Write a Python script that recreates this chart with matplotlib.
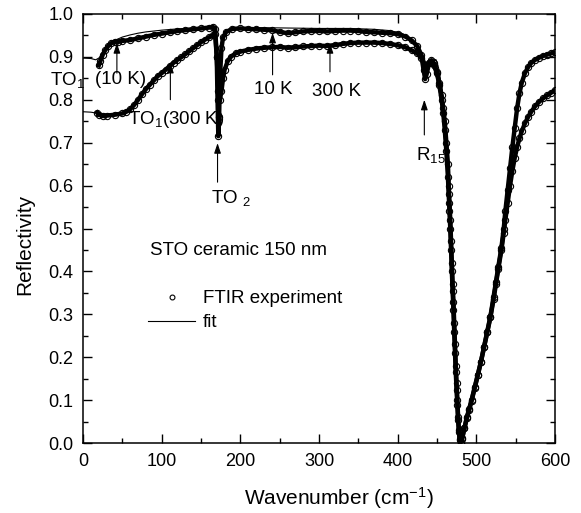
import numpy as np
import matplotlib
matplotlib.use('Agg')
import matplotlib.pyplot as plt
from matplotlib.lines import Line2D
from matplotlib.ticker import MultipleLocator

plt.rcParams['font.family'] = ['Liberation Sans', 'DejaVu Sans']
plt.rcParams['mathtext.fontset'] = 'custom'
plt.rcParams['mathtext.rm'] = 'Liberation Sans'
plt.rcParams['mathtext.default'] = 'regular'

wn_10k = [20, 22, 25, 28, 32, 36, 40, 45, 50, 60, 70, 80, 90, 100, 110, 120, 130, 140, 150, 160,
          165, 168, 170, 171, 172, 173, 174, 176, 178, 182, 190, 200, 210, 220, 230, 240, 250, 260,
          270, 280, 290, 300, 310, 320, 330, 340, 350, 360, 370, 380, 390, 400, 410, 418, 425, 430,
          433, 435, 437, 440, 443, 446, 450, 453, 456, 458, 460, 462, 464, 465, 466, 467, 468, 469,
          470, 471, 472, 473, 474, 475, 476, 477, 478, 479, 480, 482, 485, 488, 491, 494, 498, 502,
          506, 510, 514, 518, 522, 525, 528, 532, 535, 537, 540, 543, 546, 549, 552, 555, 558, 562,
          566, 570, 575, 580, 585, 590, 595, 600]
R_10k = [0.880, 0.890, 0.905, 0.915, 0.925, 0.932, 0.935, 0.935, 0.937, 0.939, 0.943, 0.947, 0.951,
         0.954, 0.957, 0.960, 0.962, 0.964, 0.966, 0.968, 0.970, 0.965, 0.90, 0.80, 0.715, 0.76, 0.85,
         0.92, 0.945, 0.958, 0.965, 0.966, 0.965, 0.964, 0.963, 0.962, 0.958, 0.955, 0.957, 0.959,
         0.960, 0.960, 0.959, 0.960, 0.961, 0.961, 0.960, 0.958, 0.957, 0.956, 0.955, 0.953, 0.947,
         0.938, 0.925, 0.905, 0.87, 0.848, 0.86, 0.885, 0.892, 0.885, 0.865, 0.84, 0.81, 0.78, 0.75,
         0.70, 0.65, 0.60, 0.56, 0.52, 0.47, 0.42, 0.37, 0.33, 0.28, 0.23, 0.18, 0.14, 0.10, 0.06,
         0.03, 0.01, 0.00, 0.01, 0.035, 0.06, 0.08, 0.10, 0.13, 0.16, 0.19, 0.225, 0.26, 0.295, 0.34,
         0.375, 0.41, 0.455, 0.50, 0.54, 0.59, 0.64, 0.69, 0.735, 0.78, 0.815, 0.84, 0.862, 0.876,
         0.886, 0.893, 0.898, 0.902, 0.905, 0.908, 0.91]

# 300 K measured reflectivity
wn_300k = [18, 20, 25, 30, 40, 50, 55, 60, 65, 70, 75, 80, 85, 90, 95, 100, 105, 110, 115, 120, 125,
           130, 135, 140, 145, 150, 155, 160, 165, 168, 170, 172, 174, 176, 178, 180, 184, 188, 194,
           200, 210, 220, 230, 240, 250, 260, 270, 280, 290, 300, 310, 320, 330, 340, 350, 360, 370,
           380, 390, 400, 410, 418, 425, 430, 435, 440, 443, 446, 450, 453, 456, 458, 460, 462, 464,
           465, 466, 467, 468, 469, 470, 471, 472, 473, 474, 475, 476, 477, 478, 479, 480, 482, 485,
           488, 491, 494, 498, 502, 506, 510, 514, 518, 522, 525, 528, 532, 535, 537, 540, 543, 546,
           549, 552, 555, 558, 562, 566, 570, 575, 580, 585, 590, 595, 600]
R_300k = [0.770, 0.765, 0.762, 0.763, 0.765, 0.768, 0.772, 0.778, 0.788, 0.800, 0.813, 0.825, 0.835,
          0.845, 0.855, 0.862, 0.870, 0.878, 0.886, 0.893, 0.899, 0.906, 0.913, 0.920, 0.927, 0.934,
          0.940, 0.945, 0.950, 0.952, 0.90, 0.82, 0.80, 0.82, 0.85, 0.87, 0.89, 0.90, 0.908, 0.912,
          0.916, 0.919, 0.921, 0.922, 0.923, 0.921, 0.922, 0.924, 0.925, 0.926, 0.925, 0.927, 0.930,
          0.932, 0.933, 0.933, 0.933, 0.932, 0.930, 0.927, 0.922, 0.915, 0.908, 0.898, 0.875, 0.885,
          0.888, 0.88, 0.862, 0.835, 0.80, 0.77, 0.73, 0.68, 0.62, 0.58, 0.54, 0.50, 0.45, 0.40, 0.355,
          0.31, 0.26, 0.21, 0.165, 0.125, 0.09, 0.055, 0.025, 0.008, 0.00, 0.012, 0.035, 0.058, 0.078,
          0.098, 0.128, 0.158, 0.19, 0.224, 0.258, 0.293, 0.335, 0.37, 0.405, 0.45, 0.49, 0.52, 0.56,
          0.60, 0.635, 0.665, 0.69, 0.71, 0.727, 0.745, 0.76, 0.772, 0.785, 0.795, 0.803, 0.81, 0.816,
          0.822]

# fits
wn_fit10 = [0, 10, 16, 20, 25, 30, 35, 40, 50, 60, 70, 80, 100, 120, 140, 160, 166, 169, 171, 172,
            173, 175, 178, 182, 190, 220, 260, 300, 340, 370, 390, 405, 415, 425, 432, 436, 440, 445,
            449, 452, 456, 460, 465, 470, 475, 480, 490, 500, 510, 520, 530, 540, 550, 555, 560, 570,
            580, 590, 600]
R_fit10 = [0.897, 0.896, 0.893, 0.897, 0.908, 0.92, 0.93, 0.938, 0.946, 0.951, 0.955, 0.958, 0.962,
           0.965, 0.967, 0.969, 0.969, 0.94, 0.80, 0.72, 0.78, 0.90, 0.95, 0.962, 0.967, 0.968, 0.967,
           0.966, 0.966, 0.964, 0.961, 0.955, 0.945, 0.927, 0.905, 0.885, 0.885, 0.895, 0.893, 0.875,
           0.83, 0.76, 0.63, 0.39, 0.15, 0.0, 0.075, 0.145, 0.225, 0.315, 0.43, 0.59, 0.755, 0.82,
           0.855, 0.89, 0.90, 0.907, 0.912]

wn_fit300 = [0, 10, 20, 30, 40, 50, 60, 70, 80, 90, 100, 120, 140, 160, 167, 170, 172, 174, 177, 180,
             188, 200, 250, 300, 350, 380, 400, 420, 430, 436, 443, 449, 453, 456, 460, 465, 470, 475,
             480, 490, 500, 510, 520, 530, 540, 550, 560, 570, 580, 590, 600]
R_fit300 = [0.772, 0.771, 0.768, 0.766, 0.767, 0.770, 0.778, 0.80, 0.826, 0.846, 0.863, 0.894, 0.921,
            0.946, 0.953, 0.91, 0.83, 0.80, 0.84, 0.87, 0.90, 0.913, 0.924, 0.927, 0.934, 0.933, 0.928,
            0.913, 0.90, 0.885, 0.89, 0.885, 0.84, 0.80, 0.73, 0.58, 0.355, 0.125, 0.0, 0.07, 0.143,
            0.224, 0.313, 0.43, 0.56, 0.675, 0.737, 0.772, 0.795, 0.81, 0.822]

fig = plt.figure(figsize=(5.81, 5.13), dpi=100)
ax = fig.add_axes([0.143, 0.136, 0.812, 0.837])

for wn, R in [(wn_10k, R_10k), (wn_300k, R_300k)]:
    ax.plot(wn, R, color='black', lw=3.2, marker='o', ms=4.5, mfc='none', mec='black', mew=0.8)
for wn, R in [(wn_fit10, R_fit10), (wn_fit300, R_fit300)]:
    ax.plot(wn, R, color='black', lw=0.8)

ax.set_xlim(0, 600)
ax.set_ylim(0, 1.0)
ax.xaxis.set_major_locator(MultipleLocator(100))
ax.xaxis.set_minor_locator(MultipleLocator(50))
ax.yaxis.set_major_locator(MultipleLocator(0.1))
ax.yaxis.set_minor_locator(MultipleLocator(0.05))
ax.tick_params(which='both', direction='in', top=True, right=True, labelsize=13, width=1)
ax.tick_params(which='major', length=6.5, pad=7)
ax.tick_params(which='minor', length=3.5)
for s in ax.spines.values():
    s.set_linewidth(1.1)

ax.set_xlabel('Wavenumber (cm$^{-1}$)', fontsize=15)
ax.set_ylabel('Reflectivity', fontsize=15)
ax.xaxis.set_label_coords(0.542, -0.098)
ax.yaxis.set_label_coords(-0.104, 0.464)

# annotations
fs = 13.5
arr = dict(arrowstyle='-|>,head_length=0.6,head_width=0.2', color='black', lw=0.8,
           shrinkA=0, shrinkB=0)
ax.text(-42, 0.846, 'TO$_1$', fontsize=fs, va='center', ha='left', clip_on=False)
ax.text(15, 0.846, '(10 K)', fontsize=fs, va='center', ha='left')
ax.annotate('', xy=(43, 0.932), xytext=(43, 0.862), arrowprops=arr)
ax.text(57, 0.753, 'TO$_1$(300 K)', fontsize=fs, va='center', ha='left')
ax.annotate('', xy=(111, 0.886), xytext=(111, 0.80), arrowprops=arr)
ax.text(163, 0.571, 'TO $_2$', fontsize=fs, va='center', ha='left')
ax.annotate('', xy=(171, 0.699), xytext=(171, 0.608), arrowprops=arr)
ax.text(242, 0.823, '10 K', fontsize=fs, va='center', ha='center')
ax.annotate('', xy=(241, 0.956), xytext=(241, 0.858), arrowprops=arr)
ax.text(322, 0.82, '300 K', fontsize=fs, va='center', ha='center')
ax.annotate('', xy=(314, 0.932), xytext=(314, 0.865), arrowprops=arr)
ax.text(424, 0.671, 'R$_{15}$', fontsize=fs, va='center', ha='left')
ax.annotate('', xy=(434, 0.80), xytext=(434, 0.718), arrowprops=arr)
ax.text(85, 0.45, 'STO ceramic 150 nm', fontsize=fs, va='center', ha='left')

handles = [Line2D([], [], ls='none', marker='o', ms=3.5, mfc='none', mec='black', mew=0.8),
           Line2D([], [], color='black', lw=0.8)]
ax.legend(handles, ['FTIR experiment', 'fit'], loc='upper left', bbox_to_anchor=(0.138, 0.356),
          frameon=False, fontsize=fs, handlelength=2.5, handletextpad=0.4, borderpad=0,
          borderaxespad=0, labelspacing=0.35)

fig.savefig('out.png', dpi=100)
